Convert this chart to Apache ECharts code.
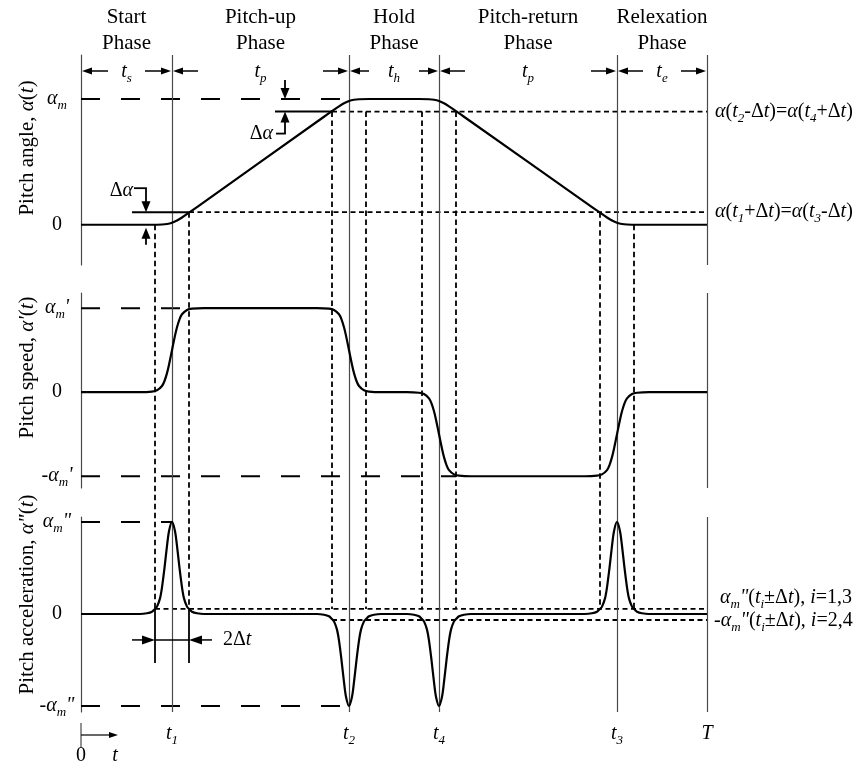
<!DOCTYPE html>
<html><head><meta charset="utf-8"><title>Pitch motion schematic</title>
<script src="https://cdn.jsdelivr.net/npm/echarts@6.0.0/dist/echarts.min.js"></script>
<style>html,body{margin:0;padding:0;background:#fff;}#chart{width:860px;height:767px;}</style>
</head><body><div id="chart"></div>
<script>
// ---------------- data (time in arbitrary units 0..T, values normalised) ----------------
const T_END = 626;
const T1 = 91, T2 = 268, T4 = 358, T3 = 536;
const DT = 17;
const timeMarks = [T1, T2, T4, T3];
const timeMarkLabels = ['1', '2', '4', '3'];
const phaseBounds = [0, T1, T2, T4, T3, T_END];
const phaseNames = ['Start\nPhase', 'Pitch-up\nPhase', 'Hold\nPhase', 'Pitch-return\nPhase', 'Relexation\nPhase'];
const phaseDurations = ['s', 'p', 'h', 'p', 'e'];
const angleLevels = [0.1, 0.9];      // α(t1+Δt)=α(t3-Δt) , α(t2-Δt)=α(t4+Δt)
const accelLevels = [0.055, -0.065]; // ±α_m''(ti±Δt)

const angleData = [
  [0,0],[71,0],[81,0.002],[86,0.006],[91,0.016],[96,0.034],[101,0.058],[108,0.096],[116,0.141],
  [243,0.859],[251,0.904],[258,0.942],[263,0.966],[268,0.984],[273,0.994],[278,0.998],[288,1],
  [338,1],[348,0.998],[353,0.994],[358,0.984],[363,0.966],[368,0.942],[375,0.904],[383,0.859],
  [511,0.141],[519,0.096],[526,0.058],[531,0.034],[536,0.016],[541,0.006],[546,0.002],[556,0],[626,0]
];
const speedData = [
  [0,0],[59,0],[71,0.007],[76,0.022],[81,0.073],[83.5,0.133],[86,0.227],[88,0.327],[91,0.5],[94,0.673],[96,0.773],[98.5,0.867],[101,0.927],[106,0.978],[111,0.993],[123,1],
  [236,1],[248,0.993],[253,0.978],[258,0.927],[260.5,0.867],[263,0.773],[265,0.673],[268,0.5],[271,0.327],[273,0.227],[275.5,0.133],[278,0.073],[283,0.022],[288,0.007],[300,0],
  [326,0],[338,-0.007],[343,-0.022],[348,-0.073],[350.5,-0.133],[353,-0.227],[355,-0.327],[358,-0.5],[361,-0.673],[363,-0.773],[365.5,-0.867],[368,-0.927],[373,-0.978],[378,-0.993],[390,-1],
  [504,-1],[516,-0.993],[521,-0.978],[526,-0.927],[528.5,-0.867],[531,-0.773],[533,-0.673],[536,-0.5],[539,-0.327],[541,-0.227],[543.5,-0.133],[546,-0.073],[551,-0.022],[556,-0.007],[568,0],[626,0]
];
const accelData = [
  [0,0],[59,0],[66,0.008],[71,0.025],[74,0.055],[76,0.08],[79,0.17],[81,0.29],[83.5,0.5],[86,0.74],[88,0.9],[91,1],[94,0.9],[96,0.74],[98.5,0.5],[101,0.29],[103,0.17],[106,0.08],[108,0.055],[111,0.025],[116,0.008],[123,0],
  [236,0],[243,-0.008],[248,-0.025],[251,-0.055],[253,-0.08],[256,-0.17],[258,-0.29],[260.5,-0.5],[263,-0.74],[265,-0.9],[268,-1],[271,-0.9],[273,-0.74],[275.5,-0.5],[278,-0.29],[280,-0.17],[283,-0.08],[285,-0.055],[288,-0.025],[293,-0.008],[300,0],
  [326,0],[333,-0.008],[338,-0.025],[341,-0.055],[343,-0.08],[346,-0.17],[348,-0.29],[350.5,-0.5],[353,-0.74],[355,-0.9],[358,-1],[361,-0.9],[363,-0.74],[365.5,-0.5],[368,-0.29],[370,-0.17],[373,-0.08],[375,-0.055],[378,-0.025],[383,-0.008],[390,0],
  [504,0],[511,0.008],[516,0.025],[519,0.055],[521,0.08],[524,0.17],[526,0.29],[528.5,0.5],[531,0.74],[533,0.9],[536,1],[539,0.9],[541,0.74],[543.5,0.5],[546,0.29],[548,0.17],[551,0.08],[553,0.055],[556,0.025],[561,0.008],[568,0],[626,0]
];

const angleTickVals = [0, 1];
const angleTickLabels = ['{r|0}', '{i|α}{s|m}'];
const speedTickVals = [-1, 0, 1];
const speedTickLabels = ["{r|-}{i|α}{s|m}{i|'}", '{r|0}', "{i|α}{s|m}{i|'}"];
const accelTickVals = [-1, 0, 1];
const accelTickLabels = ['{r|-}{i|α}{s|m}{i|"}', '{r|0}', '{i|α}{s|m}{i|"}'];

// ---------------- styling ----------------
const FF = '"Liberation Serif","Times New Roman",Times,serif';
function tok(size, italic, lh, va) {
  const o = {fontFamily: FF, fontSize: size, fontStyle: italic ? 'italic' : 'normal', lineHeight: lh, color: '#000', fill: '#000'};
  if (va) o.verticalAlign = va;
  return o;
}
const RICH = {
  i: tok(20, true, 26), r: tok(20, false, 26),
  s: tok(13, true, 15, 'bottom'),
  I: tok(21, true, 28), R: tok(21, false, 28)
};
const GRAY = '#4a4a4a';

function yAx(g, min, max, vals, labels) {
  return {
    gridIndex: g, type: 'value', min: min, max: max,
    splitLine: {show: false}, axisTick: {show: false},
    axisLine: {show: true, lineStyle: {color: GRAY, width: 1.2}},
    axisLabel: {
      customValues: vals, margin: 24, align: 'center', rich: RICH,
      formatter: function (v) { const k = vals.indexOf(v); return k >= 0 ? labels[k] : ''; }
    }
  };
}
function refLine(g, pts, kind) {
  return {
    type: 'line', xAxisIndex: g, yAxisIndex: g, data: pts, showSymbol: false, symbol: 'none', silent: true, z: 3,
    lineStyle: kind === 'long' ? {color: '#000', width: 2, type: [19, 21]} : {color: '#000', width: 1.8, type: [5, 3.5]}
  };
}
function curve(g, data) {
  return {
    type: 'line', xAxisIndex: g, yAxisIndex: g, data: data, showSymbol: false, symbol: 'none',
    smooth: 0.3, silent: true, z: 5, lineStyle: {color: '#000', width: 2.2},
    markLine: {silent: true, symbol: ['none', 'none'], label: {show: false},
      lineStyle: {color: GRAY, width: 1.2, type: 'solid'}, data: [{xAxis: T_END}]}
  };
}

const chart = echarts.init(document.getElementById('chart'), null, {renderer: 'canvas'});
const option = {
  animation: false,
  backgroundColor: '#fff',
  grid: [
    {left: 81, width: 626, top: 55, height: 210, outerBoundsMode: 'none'},
    {left: 81, width: 626, top: 293, height: 195, outerBoundsMode: 'none'},
    {left: 81, width: 626, top: 517, height: 195, outerBoundsMode: 'none'},
    {left: 81, width: 626, top: 55, height: 657, outerBoundsMode: 'none'}
  ],
  xAxis: [0, 1, 2, 3].map(g => ({gridIndex: g, type: 'value', min: 0, max: T_END, show: false})),
  yAxis: [
    yAx(0, -0.32, 1.35, angleTickVals, angleTickLabels),
    yAx(1, -1.14, 1.18, speedTickVals, speedTickLabels),
    yAx(2, -1.065, 1.054, accelTickVals, accelTickLabels),
    {gridIndex: 3, type: 'value', min: 0, max: 1, show: false}
  ],
  series: [
    {type: 'line', xAxisIndex: 3, yAxisIndex: 3, data: [[0, 0]], showSymbol: false, symbol: 'none',
      lineStyle: {opacity: 0}, silent: true, z: 1,
      markLine: {silent: true, symbol: ['none', 'none'], label: {show: false},
        lineStyle: {color: GRAY, width: 1.2, type: 'solid'},
        data: timeMarks.map(t => ({xAxis: t}))}},
    curve(0, angleData), curve(1, speedData), curve(2, accelData),
    refLine(0, [[0, 1], [T2, 1]], 'long'),
    refLine(0, [[T2 - DT, angleLevels[1]], [T_END, angleLevels[1]]], 'short'),
    refLine(0, [[T1 + DT, angleLevels[0]], [T_END, angleLevels[0]]], 'short'),
    refLine(1, [[0, 1], [T1 + DT, 1]], 'long'),
    refLine(1, [[0, -1], [T4 + DT, -1]], 'long'),
    refLine(2, [[0, 1], [T1, 1]], 'long'),
    refLine(2, [[0, -1], [T2, -1]], 'long'),
    refLine(2, [[T1 - DT, accelLevels[0]], [T_END, accelLevels[0]]], 'short'),
    refLine(2, [[T2 - DT, accelLevels[1]], [T_END, accelLevels[1]]], 'short')
  ]
};
chart.setOption(option);

// ---------------- annotations, positioned through the axes ----------------
const P = (g, t, v) => chart.convertToPixel({gridIndex: g}, [t, v]);
const G = [];
function ln(x1, y1, x2, y2, w, dash, color) {
  G.push({type: 'line', silent: true, z: 10, shape: {x1, y1, x2, y2},
    style: {stroke: color || '#000', lineWidth: w || 1.5, lineDash: dash || null}});
}
function arrow(x1, y1, x2, y2, head, half, w) {
  head = head || 9; half = half || 3.5;
  const dx = x2 - x1, dy = y2 - y1, L = Math.hypot(dx, dy), ux = dx / L, uy = dy / L;
  const bx = x2 - ux * head, by = y2 - uy * head;
  ln(x1, y1, bx + ux, by + uy, w || 1.5);
  G.push({type: 'polygon', silent: true, z: 10,
    shape: {points: [[x2, y2], [bx - uy * half, by + ux * half], [bx + uy * half, by - ux * half]]},
    style: {fill: '#000'}});
}
function txt(x, y, text, align, valign, extra) {
  const el = {type: 'text', silent: true, z: 10, x: x, y: y,
    style: Object.assign({text: text, rich: RICH, align: align || 'center', verticalAlign: valign || 'middle',
      textAlign: align || 'center', textVerticalAlign: valign || 'middle',
      font: '20px ' + FF, fill: '#000'}, extra || {})};
  G.push(el);
  return el;
}

// dotted verticals linking the three panels
const dottedStarts = [[T1 - DT, 0], [T1 + DT, angleLevels[0]], [T2 - DT, angleLevels[1]], [T2 + DT, angleLevels[1]],
  [T4 - DT, angleLevels[1]], [T4 + DT, angleLevels[1]], [T3 - DT, angleLevels[0]], [T3 + DT, 0]];
dottedStarts.forEach(([t, v]) => {
  const a = P(0, t, v), b = P(2, t, accelLevels[0]);
  ln(a[0], a[1], b[0], b[1], 1.8, [5.5, 3.5]);
});

// phase headers and duration arrows
const yTopArrow = 71;
const arrowLens = [26, 25, 19, 25, 25];
for (let k = 0; k < 5; k++) {
  const xl = P(0, phaseBounds[k], 0)[0], xr = P(0, phaseBounds[k + 1], 0)[0], xm = (xl + xr) / 2;
  G.push({type: 'text', silent: true, z: 10, x: xm, y: 30,
    style: {text: phaseNames[k], font: '21px ' + FF, lineHeight: 26, fill: '#000',
      align: 'center', verticalAlign: 'middle', textAlign: 'center', textVerticalAlign: 'middle'}});
  arrow(xl + arrowLens[k] + 1, yTopArrow, xl + 1, yTopArrow, 10, 3.5, 1.5);
  arrow(xr - arrowLens[k] - 1, yTopArrow, xr - 1, yTopArrow, 10, 3.5, 1.5);
  txt(xm, yTopArrow + 1, '{i|t}{s|' + phaseDurations[k] + '}');
}

// upper Δα marker
{
  const xe = P(0, T2 - DT, 0)[0], yTop = P(0, 0, 1)[1], yUp = P(0, 0, angleLevels[1])[1];
  const xa = xe - 47;
  ln(xa - 10, yUp, xe, yUp, 2);
  arrow(xa, yTop - 19, xa, yTop, 11, 4.5, 1.8);
  arrow(xa, yUp + 22, xa, yUp, 11, 4.5, 1.8);
  ln(xa - 9, yUp + 22, xa + 0.9, yUp + 22, 1.8);
  txt(xa - 12, yUp + 22, '{r|Δ}{i|α}', 'right');
}
// lower Δα marker
{
  const xe = P(0, T1 + DT, 0)[0], yLow = P(0, 0, angleLevels[0])[1], y0 = P(0, 0, 0)[1];
  const xa = xe - 43;
  ln(xa - 14, yLow, xe, yLow, 2);
  arrow(xa, yLow - 24, xa, yLow, 11, 4.5, 1.8);
  ln(xa - 12, yLow - 24, xa + 0.9, yLow - 24, 1.8);
  txt(xa - 13, yLow - 21, '{r|Δ}{i|α}', 'right');
  arrow(xa, y0 + 20, xa, y0 + 3, 11, 4.5, 1.8);
}
// 2Δt marker
{
  const a = P(2, T1 - DT, accelLevels[0]), b = P(2, T1 + DT, accelLevels[0]);
  const yb = a[1] + 54, ym = a[1] + 31;
  ln(a[0], a[1], a[0], yb, 1.8);
  ln(b[0], b[1], b[0], yb, 1.8);
  ln(a[0], ym, b[0], ym, 1.5);
  arrow(a[0] - 23, ym, a[0], ym, 13, 4.5, 1.5);
  arrow(b[0] + 23, ym, b[0], ym, 13, 4.5, 1.5);
  txt(b[0] + 34, ym, '{r|2Δ}{i|t}', 'left');
}

// time labels below the axes
const yBottom = P(2, 0, -1.065)[1];
timeMarks.forEach((t, k) => {
  txt(P(2, t, 0)[0], yBottom + 22, '{i|t}{s|' + timeMarkLabels[k] + '}');
});
txt(P(2, T_END, 0)[0], yBottom + 22, '{i|T}');
{
  const x0 = P(2, 0, 0)[0];
  ln(x0, yBottom + 11, x0, yBottom + 36, 1.2, null, GRAY);
  arrow(x0, yBottom + 23, x0 + 37, yBottom + 23, 9, 3, 1.2);
  txt(x0, yBottom + 44, '{r|0}');
  txt(x0 + 34, yBottom + 44, '{i|t}');
}

// rotated panel titles
[[0, '{R|Pitch angle, }{I|α}{R|(}{I|t}{R|)}'],
 [1, "{R|Pitch speed, }{I|α'}{R|(}{I|t}{R|)}"],
 [2, '{R|Pitch acceleration, }{I|α"}{R|(}{I|t}{R|)}']].forEach(([g, s]) => {
  const top = P(g, 0, option.yAxis[g].max)[1], bot = P(g, 0, option.yAxis[g].min)[1];
  const off = [-12, -23, -20][g];
  const el = txt(27, (top + bot) / 2 + off, s);
  el.rotation = Math.PI / 2;
});

// right-hand labels for the Δ levels
{
  const xr = P(0, T_END, 0)[0];
  txt(xr + 8, P(0, 0, angleLevels[1])[1], '{i|α}{r|(}{i|t}{s|2}{r|-Δ}{i|t}{r|)=}{i|α}{r|(}{i|t}{s|4}{r|+Δ}{i|t}{r|)}', 'left');
  txt(xr + 8, P(0, 0, angleLevels[0])[1], '{i|α}{r|(}{i|t}{s|1}{r|+Δ}{i|t}{r|)=}{i|α}{r|(}{i|t}{s|3}{r|-Δ}{i|t}{r|)}', 'left');
  txt(xr + 13, P(2, 0, accelLevels[0])[1] - 11, '{i|α}{s|m}{i|"}{r|(}{i|t}{s|i}{r|±Δ}{i|t}{r|), }{i|i}{r|=1,3}', 'left');
  txt(xr + 7, P(2, 0, accelLevels[1])[1] + 1, '{r|-}{i|α}{s|m}{i|"}{r|(}{i|t}{s|i}{r|±Δ}{i|t}{r|), }{i|i}{r|=2,4}', 'left');
}

chart.setOption({graphic: {elements: G}});
</script>
</body></html>
